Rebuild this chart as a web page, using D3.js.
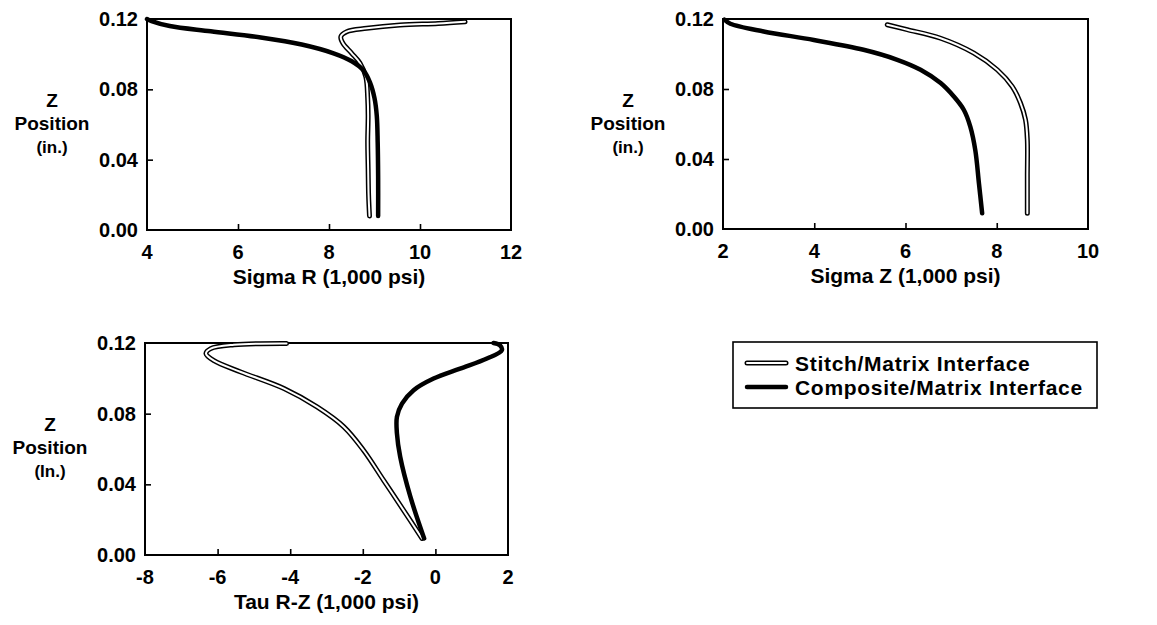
<!DOCTYPE html>
<html>
<head>
<meta charset="utf-8">
<script src="https://cdn.jsdelivr.net/npm/d3@7"></script>
<style>
  body { margin: 0; background: #fff; }
  text { font-family: "Liberation Sans", Arial, sans-serif; font-weight: bold; fill: #000; }
</style>
</head>
<body>
<svg width="1157" height="625"></svg>
<script>
// values: [stress (1,000 psi), Z position (in.)]
const sigmaRStitch = [[8.89,0.008],[8.87,0.02],[8.86,0.035],[8.85,0.05],[8.86,0.065],[8.85,0.075],[8.81,0.087],[8.68,0.095],[8.5,0.1005],[8.31,0.106],[8.26,0.110],[8.39,0.1128],[8.83,0.1147],[9.56,0.1166],[10.4,0.1175],[10.99,0.1185]];
const sigmaRComposite = [[9.08,0.008],[9.08,0.03],[9.07,0.05],[9.05,0.065],[9.0,0.075],[8.9,0.084],[8.75,0.091],[8.5,0.096],[8.1,0.1005],[7.4,0.1055],[6.5,0.1095],[5.4,0.113],[4.5,0.116],[4.1,0.1188],[4.0,0.12]];
const sigmaZStitch = [[8.67,0.009],[8.67,0.03],[8.67,0.051],[8.63,0.0624],[8.52,0.072],[8.34,0.0814],[8.01,0.091],[7.5,0.1005],[6.77,0.109],[6.04,0.1139],[5.6,0.1167]];
const sigmaZComposite = [[7.68,0.009],[7.61,0.026],[7.53,0.045],[7.42,0.0585],[7.28,0.068],[7.06,0.0757],[6.77,0.0834],[6.33,0.091],[5.82,0.0967],[5.08,0.1024],[3.99,0.108],[2.89,0.1129],[2.16,0.1173],[2.03,0.1196]];
const tauStitch = [[-4.1,0.1197],[-5.55,0.119],[-6.19,0.1168],[-6.32,0.114],[-6.1,0.110],[-5.36,0.1036],[-4.17,0.0942],[-3.26,0.0838],[-2.52,0.0725],[-1.98,0.0593],[-1.43,0.0424],[-0.88,0.0254],[-0.37,0.0094]];
const tauComposite = [[-0.31,0.0094],[-0.69,0.033],[-0.97,0.0556],[-1.06,0.0688],[-1.06,0.0782],[-0.92,0.0857],[-0.6,0.0933],[-0.05,0.0999],[0.68,0.1055],[1.42,0.1112],[1.83,0.1159],[1.78,0.1187],[1.6,0.12]];

const sigmaRTicks = [4, 6, 8, 10, 12];
const sigmaZTicks = [2, 4, 6, 8, 10];
const tauTicks = [-8, -6, -4, -2, 0, 2];
const zTicks = [0, 0.04, 0.08, 0.12];
const legendLabels = ["Stitch/Matrix Interface", "Composite/Matrix Interface"];

let svg = d3.select("svg");

function stitchLine(g, line, data) {
    g.append("path").attr("d", line(data))
        .attr("fill", "none").attr("stroke", "#000").attr("stroke-width", 5)
        .attr("stroke-linecap", "round").attr("stroke-linejoin", "round");
    g.append("path").attr("d", line(data))
        .attr("fill", "none").attr("stroke", "#fff").attr("stroke-width", 2)
        .attr("stroke-linecap", "round").attr("stroke-linejoin", "round");
}

function compositeLine(g, line, data) {
    g.append("path").attr("d", line(data))
        .attr("fill", "none").attr("stroke", "#000").attr("stroke-width", 4.5)
        .attr("stroke-linecap", "round").attr("stroke-linejoin", "round");
}

function panel(left, top, right, bottom, xTicks, title, unitLabel, stitch, composite) {
    let x = d3.scaleLinear().domain(d3.extent(xTicks)).range([left, right]);
    let y = d3.scaleLinear().domain([0, 0.12]).range([bottom, top]);
    let g = svg.append("g");

    // inward ticks on the bottom and left edges
    let xAxis = d3.axisTop(x).tickValues(xTicks.slice(1, -1)).tickSize(6).tickFormat("");
    g.append("g").attr("transform", "translate(0," + bottom + ")").call(xAxis)
        .call(a => a.select(".domain").remove())
        .selectAll("line").attr("stroke-width", 1.6);
    let yAxis = d3.axisRight(y).tickValues(zTicks.slice(1, -1)).tickSize(6).tickFormat("");
    g.append("g").attr("transform", "translate(" + left + ",0)").call(yAxis)
        .call(a => a.select(".domain").remove())
        .selectAll("line").attr("stroke-width", 1.6);

    g.append("rect")
        .attr("x", left).attr("y", top)
        .attr("width", right - left).attr("height", bottom - top)
        .attr("fill", "none").attr("stroke", "#000").attr("stroke-width", 2);

    g.selectAll(".xl").data(xTicks).enter().append("text")
        .attr("x", d => x(d)).attr("y", bottom + 22)
        .attr("dominant-baseline", "central")
        .style("text-anchor", "middle").style("font-size", "20px")
        .text(d => d);

    g.selectAll(".yl").data(zTicks).enter().append("text")
        .attr("x", left - 9).attr("y", d => y(d))
        .attr("dominant-baseline", "central")
        .style("text-anchor", "end").style("font-size", "20px")
        .text(d => d.toFixed(2));

    g.append("text")
        .attr("x", (left + right) / 2).attr("y", bottom + 46)
        .attr("dominant-baseline", "central")
        .style("text-anchor", "middle").style("font-size", "21px")
        .text(title);

    let yTitle = ["Z", "Position", unitLabel];
    g.selectAll(".yt").data(yTitle).enter().append("text")
        .attr("x", left - 95).attr("y", (d, i) => top + 81 + i * 23.5)
        .attr("dominant-baseline", "central")
        .style("text-anchor", "middle")
        .style("font-size", (d, i) => i == 2 ? "17px" : "19px")
        .text(d => d);

    let line = d3.line().x(d => x(d[0])).y(d => y(d[1])).curve(d3.curveCatmullRom.alpha(0.5));
    stitchLine(g, line, stitch);
    compositeLine(g, line, composite);
}

panel(147, 19, 511, 230, sigmaRTicks, "Sigma R (1,000 psi)", "(in.)", sigmaRStitch, sigmaRComposite);
panel(723, 19, 1088, 229, sigmaZTicks, "Sigma Z (1,000 psi)", "(in.)", sigmaZStitch, sigmaZComposite);
panel(145, 343, 508, 555, tauTicks, "Tau R-Z (1,000 psi)", "(In.)", tauStitch, tauComposite);

// legend
let legend = svg.append("g");
legend.append("rect")
    .attr("x", 733).attr("y", 342).attr("width", 364).attr("height", 66)
    .attr("fill", "none").attr("stroke", "#000").attr("stroke-width", 1.6);

let legendRows = d3.scaleBand().domain(legendLabels).range([351, 399]);
legendLabels.forEach((label, i) => {
    let ly = legendRows(label) + legendRows.bandwidth() / 2;
    let sample = d3.line()([[747, ly], [786, ly]]);
    let s = legend.append("g");
    if (i == 0) {
        s.append("path").attr("d", sample).attr("stroke", "#000").attr("stroke-width", 5).attr("stroke-linecap", "round");
        s.append("path").attr("d", sample).attr("stroke", "#fff").attr("stroke-width", 2).attr("stroke-linecap", "round");
    } else {
        s.append("path").attr("d", sample).attr("stroke", "#000").attr("stroke-width", 4.5).attr("stroke-linecap", "round");
    }
    legend.append("text")
        .attr("x", 795).attr("y", ly)
        .attr("dominant-baseline", "central")
        .style("font-size", "21px")
        .style("letter-spacing", "0.7px")
        .text(label);
});
</script>
</body>
</html>
